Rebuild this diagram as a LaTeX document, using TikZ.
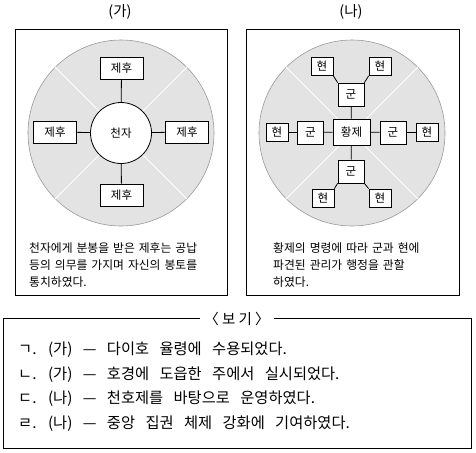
\documentclass[tikz,border=0pt]{standalone}
\usepackage{fontspec}
\setmainfont{Noto Sans CJK KR}
\begin{document}
\begin{tikzpicture}[x=1pt,y=-1pt,
  panel/.style={draw=black,line width=0.9pt},
  disc/.style={draw=gray!80,fill=gray!22,line width=0.6pt},
  sep/.style={draw=white,line width=0.9pt},
  lbox/.style={draw=black,fill=white,line width=0.8pt,inner sep=0pt,font=\fontsize{11.5}{12}\selectfont},
  conn/.style={draw=black,line width=0.8pt},
  desc/.style={anchor=west,inner sep=0pt,font={\fontsize{11.8}{12}\selectfont\spaceskip=4pt plus 1pt\relax}},
  ttl/.style={inner sep=0pt,font=\fontsize{14.5}{15}\selectfont},
  opt/.style={anchor=west,inner sep=0pt,font={\fontsize{15.3}{16}\selectfont\spaceskip=10.4pt plus 1pt\relax}}
]
\useasboundingbox (0,0) rectangle (476,452);
% ---------- left panel
\node[ttl] (tA) at (120,12) {(가)};
\draw[panel] (15,29) rectangle (227,295);
\coordinate (cA) at (121,133);
\fill[disc] (cA) circle (93);
\foreach \a in {45,135,225,315}
  \draw[sep] (cA) -- ++(\a:93);
\node[circle,draw=black,fill=white,line width=0.8pt,minimum size=61pt,inner sep=0pt,font=\fontsize{11.5}{12}\selectfont] (tz) at (cA) {천자};
\node[lbox,minimum width=43pt,minimum height=22pt] (jn) at (121.5,68) {제후};
\node[lbox,minimum width=43pt,minimum height=22pt] (jw) at (55,132) {제후};
\node[lbox,minimum width=43pt,minimum height=22pt] (je) at (187,132) {제후};
\node[lbox,minimum width=43pt,minimum height=22pt] (js) at (121.5,195) {제후};
\draw[conn] (tz) -- (jn);
\draw[conn] (tz) -- (jw);
\draw[conn] (tz) -- (je);
\draw[conn] (tz) -- (js);
\node[desc] (dA1) at (29,248) {천자에게 분봉을 받은 제후는 공납};
\node[desc] (dA2) at (29,265) {등의 의무를 가지며 자신의 봉토를};
\node[desc] (dA3) at (29,282) {통치하였다.};
% ---------- right panel
\node[ttl] (tB) at (351,12) {(나)};
\draw[panel] (246,29) rectangle (459,295);
\coordinate (cB) at (352,133);
\fill[disc] (cB) circle (93);
\foreach \a in {45,135,225,315}
  \draw[sep] (cB) -- ++(\a:93);
\node[lbox,minimum width=37pt,minimum height=26pt] (hw) at (351.5,132) {황제};
\node[lbox,minimum width=26pt,minimum height=23pt] (gn) at (351,94.5) {군};
\node[lbox,minimum width=26pt,minimum height=23pt] (gs) at (351,171.5) {군};
\node[lbox,minimum width=26pt,minimum height=23pt] (gw) at (310.5,132.5) {군};
\node[lbox,minimum width=26pt,minimum height=23pt] (ge) at (393,132.5) {군};
\node[lbox,minimum width=22pt,minimum height=18pt] (h1) at (322,66.5) {현};
\node[lbox,minimum width=22pt,minimum height=18pt] (h2) at (380,66.5) {현};
\node[lbox,minimum width=22pt,minimum height=18pt] (h3) at (277,132.5) {현};
\node[lbox,minimum width=22pt,minimum height=18pt] (h4) at (427,132.5) {현};
\node[lbox,minimum width=22pt,minimum height=18pt] (h5) at (323,198) {현};
\node[lbox,minimum width=22pt,minimum height=18pt] (h6) at (380,198) {현};
\draw[conn] (hw) -- (gn);
\draw[conn] (hw) -- (gs);
\draw[conn] (hw) -- (gw);
\draw[conn] (hw) -- (ge);
\draw[conn] (gw) -- (h3);
\draw[conn] (ge) -- (h4);
\draw[conn] (h1.south east) -- (gn.north west);
\draw[conn] (h2.south west) -- (gn.north east);
\draw[conn] (h5.north east) -- (gs.south west);
\draw[conn] (h6.north west) -- (gs.south east);
\node[desc] (dB1) at (273,248) {황제의 명령에 따라 군과 현에};
\node[desc] (dB2) at (273,265) {파견된 관리가 행정을 관할};
\node[desc] (dB3) at (273,282) {하였다.};
% ---------- bottom box
\draw[panel] (3,318) rectangle (471,448);
\node[ttl,fill=white,inner xsep=4pt] (bg) at (237,319) {〈 보 기 〉};
\node[opt] (o1) at (18,350) {ㄱ. (가) — 다이호 율령에 수용되었다.};
\node[opt] (o2) at (18,375) {ㄴ. (가) — 호경에 도읍한 주에서 실시되었다.};
\node[opt] (o3) at (18,399) {ㄷ. (나) — 천호제를 바탕으로 운영하였다.};
\node[opt] (o4) at (18,424) {ㄹ. (나) — 중앙 집권 체제 강화에 기여하였다.};
\end{tikzpicture}
\end{document}
